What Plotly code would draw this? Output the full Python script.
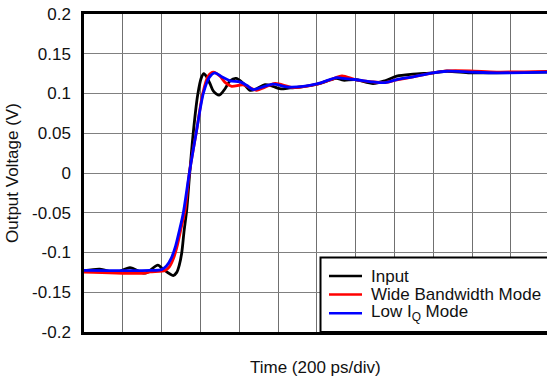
import plotly.graph_objects as go

# Step response, time in ps (200 ps per division), output in volts
t_input = [0, 82, 165, 237, 314, 381, 407, 460, 478, 492, 504, 515, 530, 545, 563,
           586, 605, 618, 632, 650, 667, 697, 727, 753, 784, 820, 856, 890, 933, 974,
           1010, 1062, 1113, 1217, 1268, 1303, 1337, 1397, 1490, 1552, 1612, 1696,
           1799, 1870, 1990, 2127, 2400]
v_input = [-0.123, -0.121, -0.125, -0.119, -0.126, -0.116, -0.121, -0.129, -0.125,
           -0.115, -0.100, -0.075, -0.045, 0.000, 0.050, 0.098, 0.120, 0.125, 0.121,
           0.112, 0.103, 0.098, 0.106, 0.116, 0.119, 0.113, 0.104, 0.106, 0.111,
           0.109, 0.106, 0.107, 0.108, 0.1126, 0.117, 0.119, 0.1167, 0.1176, 0.1126,
           0.116, 0.1218, 0.1243, 0.126, 0.128, 0.126, 0.126, 0.127]

t_wide = [0, 314, 340, 418, 440, 462, 482, 500, 521, 543, 581, 612, 640, 667, 700,
          727, 761, 820, 890, 933, 985, 1077, 1200, 1268, 1330, 1397, 1490, 1552,
          1612, 1696, 1799, 1870, 1990, 2127, 2400]
v_wide = [-0.1245, -0.126, -0.1245, -0.1225, -0.118, -0.107, -0.090, -0.070, -0.047,
          0.000, 0.0545, 0.100, 0.122, 0.127, 0.122, 0.114, 0.109, 0.111, 0.104,
          0.108, 0.1126, 0.1075, 0.1117, 0.117, 0.122, 0.1176, 0.1146, 0.1138,
          0.117, 0.121, 0.126, 0.1284, 0.1284, 0.127, 0.128]

t_lowiq = [0, 340, 400, 425, 450, 472, 492, 512, 543, 581, 615, 645, 675, 710, 753,
           804, 840, 871, 930, 974, 1062, 1200, 1303, 1337, 1397, 1490, 1552, 1612,
           1696, 1799, 1870, 1990, 2127, 2400]
v_lowiq = [-0.1225, -0.1225, -0.1215, -0.117, -0.107, -0.092, -0.072, -0.050, 0.000,
           0.0545, 0.100, 0.120, 0.126, 0.121, 0.116, 0.1146, 0.110, 0.105, 0.109,
           0.1117, 0.108, 0.112, 0.120, 0.119, 0.1176, 0.1146, 0.1138, 0.1176,
           0.121, 0.126, 0.128, 0.127, 0.126, 0.127]

series_names = ["Input", "Wide Bandwidth Mode", "Low I<sub>Q</sub> Mode"]
series_colors = ["#000000", "#ff0000", "#0000ff"]

y_ticks = [0.2, 0.15, 0.1, 0.05, 0, -0.05, -0.1, -0.15, -0.2]
y_tick_text = ["0.2", "0.15", "0.1", "0.05", "0", "-0.05", "-0.1", "-0.15", "-0.2"]

W, H = 547, 383
L, T, B = 84, 14, 51
plot_w = W - L
plot_h = H - T - B
DIV_PX = 38.8          # pixels per 200 ps division
x_max = plot_w / DIV_PX * 200

FONT = "Liberation Sans, Arial, sans-serif"
FS = 17


def px_x(px):
    return (px - L) / plot_w


def px_y(py):
    return (H - B - py) / plot_h


fig = go.Figure()
for t, v, name, col in zip([t_input, t_wide, t_lowiq], [v_input, v_wide, v_lowiq],
                           series_names, series_colors):
    fig.add_trace(go.Scatter(x=t, y=v, mode="lines", name=name,
                             line=dict(color=col, width=2.8, shape="spline", smoothing=0.8),
                             showlegend=False))

shapes = [
    # legend box
    dict(type="rect", xref="paper", yref="paper", x0=px_x(320.5), x1=1.05,
         y0=0, y1=px_y(257.5), fillcolor="white", line=dict(color="black", width=2),
         layer="above"),
]
annotations = [
    dict(text="Time (200 ps/div)", xref="paper", yref="paper", x=0.5, y=0,
         xanchor="center", yanchor="middle", yshift=-35, showarrow=False,
         font=dict(family=FONT, size=FS, color="#111")),
    dict(text="Output Voltage (V)", xref="paper", yref="paper", x=0, y=0.5,
         xanchor="center", yanchor="middle", xshift=-72, textangle=-90, showarrow=False,
         font=dict(family=FONT, size=FS, color="#111")),
]
row_y = [276, 294.5, 313.3]
for name, col, ry in zip(series_names, series_colors, row_y):
    shapes.append(dict(type="line", xref="paper", yref="paper", x0=px_x(329), x1=px_x(362),
                       y0=px_y(ry), y1=px_y(ry), line=dict(color=col, width=2.5),
                       layer="above"))
    annotations.append(dict(text=name, xref="paper", yref="paper", x=px_x(369), y=px_y(ry),
                            xanchor="left", yanchor="middle", showarrow=False,
                            font=dict(family=FONT, size=FS, color="#111")))

fig.update_layout(
    width=W, height=H,
    margin=dict(l=L, r=0, t=T, b=B, pad=0, autoexpand=False),
    paper_bgcolor="white", plot_bgcolor="white",
    showlegend=False,
    shapes=shapes, annotations=annotations,
    xaxis=dict(range=[0, x_max], tick0=0, dtick=200, showticklabels=False, ticks="",
               showgrid=True, gridcolor="#707070", gridwidth=1, zeroline=False,
               showline=True, mirror=True, linecolor="black", linewidth=2.5),
    yaxis=dict(range=[-0.2, 0.2], tickvals=y_ticks, ticktext=y_tick_text, ticks="",
               ticklabelstandoff=7,
               tickfont=dict(family=FONT, size=FS, color="#111"),
               showgrid=True, gridcolor="#808080", gridwidth=1, zeroline=False,
               showline=True, mirror=False, linecolor="black", linewidth=2.5),
)

fig.write_html("out.html")
